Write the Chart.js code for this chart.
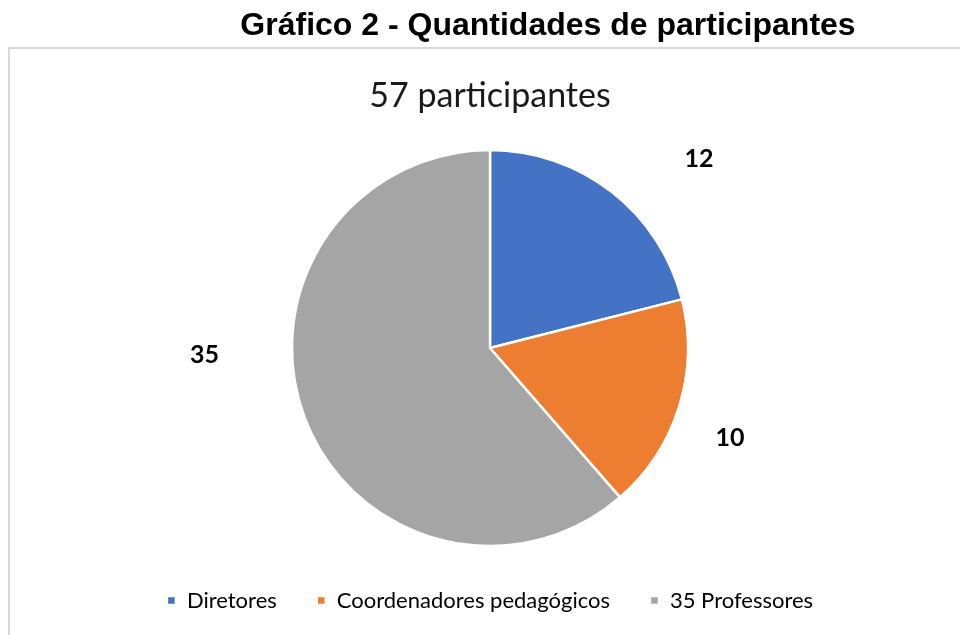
<!DOCTYPE html>
<html>
<head>
<meta charset="utf-8">
<script src="https://cdn.jsdelivr.net/npm/chart.js@4/dist/chart.umd.min.js"></script>
<style>
  html, body { margin: 0; padding: 0; background: #ffffff; }
  #wrap { position: relative; width: 960px; height: 635px; }
</style>
</head>
<body>
<div id="wrap"><canvas id="c" width="960" height="635"></canvas></div>
<script>
const mainTitle = 'Gráfico 2 - Quantidades de participantes';
const chartTitle = '57 participantes';
const categories = ['Diretores', 'Coordenadores pedagógicos', '35 Professores'];
const values = [12, 10, 35];
const colors = ['#4472C4', '#ED7D31', '#A5A5A5'];

const framePlugin = {
  id: 'frame',
  beforeDraw(chart) {
    const ctx = chart.ctx;
    ctx.save();
    ctx.fillStyle = '#ffffff';
    ctx.fillRect(0, 0, chart.width, chart.height);
    ctx.strokeStyle = '#D9D9D9';
    ctx.lineWidth = 2;
    ctx.strokeRect(9, 48, chart.width + 20, chart.height + 20);
    ctx.fillStyle = '#000000';
    ctx.font = 'bold 32px "Liberation Sans", Arial, sans-serif';
    ctx.textAlign = 'center';
    ctx.textBaseline = 'middle';
    ctx.fillText(mainTitle, 548, 26);
    ctx.restore();
  }
};

// Excel "best fit" label placement, expressed as angular nudge (deg) and radius factor per slice
const labelPlugin = {
  id: 'outLabels',
  afterDatasetsDraw(chart, args, opts) {
    const ctx = chart.ctx;
    const meta = chart.getDatasetMeta(0);
    ctx.save();
    ctx.fillStyle = '#000000';
    ctx.font = 'bold 25px Lato, "Open Sans", sans-serif';
    ctx.textAlign = 'center';
    ctx.textBaseline = 'middle';
    meta.data.forEach((arc, i) => {
      const p = arc.getProps(['x', 'y', 'startAngle', 'endAngle', 'outerRadius'], true);
      const mid = (p.startAngle + p.endAngle) / 2 + (opts.shift[i] || 0) * Math.PI / 180;
      const d = p.outerRadius * (opts.dist[i] || 1.4);
      ctx.fillText(String(values[i]), p.x + Math.cos(mid) * d, p.y + Math.sin(mid) * d);
    });
    ctx.restore();
  }
};

new Chart(document.getElementById('c'), {
  type: 'pie',
  data: {
    labels: categories,
    datasets: [{
      data: values,
      backgroundColor: colors,
      borderColor: '#ffffff',
      borderWidth: 2.5,
      radius: 198
    }]
  },
  options: {
    responsive: false,
    animation: false,
    layout: { padding: { top: 75.7, left: 20, right: 0, bottom: 13.5 } },
    plugins: {
      title: {
        display: true,
        text: chartTitle,
        color: '#1a1a1a',
        font: { family: 'Lato, "Open Sans", sans-serif', size: 34, weight: 'normal', lineHeight: 1.2 },
        padding: { top: 0, bottom: 30 }
      },
      legend: {
        position: 'bottom',
        labels: {
          color: '#000000',
          font: { family: 'Lato, "Open Sans", sans-serif', size: 22 },
          boxWidth: 9,
          boxHeight: 9,
          padding: 40
        }
      },
      outLabels: {
        shift: [9.9, 3.2, 19.1],
        dist: [1.425, 1.294, 1.442]
      },
      tooltip: { enabled: false }
    }
  },
  plugins: [framePlugin, labelPlugin]
});
</script>
</body>
</html>
